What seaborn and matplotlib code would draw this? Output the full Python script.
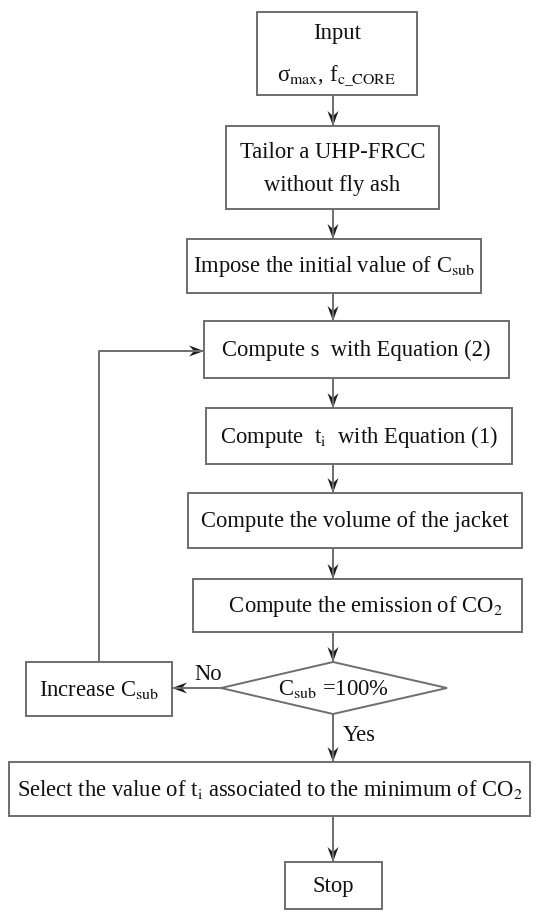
import matplotlib.pyplot as plt
import seaborn as sns
from matplotlib.patches import Rectangle, Polygon

sns.set_theme(style="white")
plt.rcParams['font.family'] = ['Liberation Serif', 'DejaVu Serif']
plt.rcParams['mathtext.fontset'] = 'stix'

# box texts (one list per box, lines top to bottom)
labels = [
    ["Input", "σ$_{\\rm max}$, f$_{\\rm c\\_CORE}$"],
    ["Tailor a UHP-FRCC", "without fly ash"],
    ["Impose the initial value of C$_{\\rm sub}$"],
    ["Compute s  with Equation (2)"],
    ["Compute  t$_{\\rm i}$  with Equation (1)"],
    ["Compute the volume of the jacket"],
    ["   Compute the emission of CO$_{2}$"],
    ["Select the value of t$_{\\rm i}$ associated to the minimum of CO$_{2}$"],
    ["Stop"],
]
side_label = "Increase C$_{\\rm sub}$"
decision_label = "C$_{\\rm sub}$ =100%"
no_label = "No"
yes_label = "Yes"

# layout in pixels: left, right, top, bottom, line spacing
boxes = [
    (257, 417, 13, 96, 42),
    (226, 439, 127, 210, 33),
    (187, 481, 240, 294, 0),
    (204, 509, 322, 379, 0),
    (206, 512, 409, 465, 0),
    (188, 522, 494, 549, 0),
    (193, 522, 580, 633, 0),
    (9, 530, 763, 817, 0),
    (285, 382, 863, 910, 0),
]
side_box = (26, 172, 663, 717, 0)
diamond = (221, 447, 663, 715)
cx = 333
loop_y = 352

line_col = "#6e6e6e"
head_col = "#1e1e1e"
txt_col = "#111111"
fs = 16.3

fig = plt.figure(figsize=(5.36, 9.12), dpi=100)
ax = fig.add_axes([0, 0, 1, 1])
ax.set_xlim(0, 536)
ax.set_ylim(912, 0)
ax.axis("off")


def box(b, lines):
    l, r, t, bt, sp = b
    ax.add_patch(Rectangle((l, t), r - l, bt - t, fill=False,
                           edgecolor=line_col, linewidth=1.4))
    n = len(lines)
    mid = (t + bt) / 2
    for i, s in enumerate(lines):
        y = mid + (i - (n - 1) / 2) * sp
        ax.text((l + r) / 2, y, s, ha="center", va="center",
                fontsize=fs, color=txt_col)


def arrow(pts):
    xs = [p[0] for p in pts]
    ys = [p[1] for p in pts]
    ax.plot(xs, ys, color=line_col, linewidth=1.4, solid_capstyle="butt")
    (x0, y0), (x1, y1) = pts[-2], pts[-1]
    d = ((x1 - x0) ** 2 + (y1 - y0) ** 2) ** 0.5
    ux, uy = (x1 - x0) / d, (y1 - y0) / d
    px, py = -uy, ux
    L, W, N = 15, 5.5, 5
    head = [(x1, y1),
            (x1 - ux * L + px * W, y1 - uy * L + py * W),
            (x1 - ux * (L - N), y1 - uy * (L - N)),
            (x1 - ux * L - px * W, y1 - uy * L - py * W)]
    ax.add_patch(Polygon(head, closed=True, color=head_col, linewidth=0))


for b, lines in zip(boxes, labels):
    box(b, lines)
box(side_box, [side_label])

# decision diamond
l, r, t, bt = diamond
my = (t + bt) / 2
ax.add_patch(Polygon([(l, my), (cx, t), (r, my), (cx, bt)], closed=True,
                     fill=False, edgecolor=line_col, linewidth=1.4))
ax.text(cx, my, decision_label, ha="center", va="center", fontsize=fs,
        color=txt_col)

# vertical arrows down the main column
for upper, lower in zip(boxes[:6], boxes[1:7]):
    arrow([(cx, upper[3]), (cx, lower[2])])
arrow([(cx, boxes[6][3]), (cx, diamond[2])])
arrow([(cx, diamond[3]), (cx, boxes[7][2])])
arrow([(cx, boxes[7][3]), (cx, boxes[8][2])])

# no branch and loop back
arrow([(l, my), (side_box[1], my)])
sx = (side_box[0] + side_box[1]) / 2
arrow([(sx, side_box[2]), (sx, loop_y), (boxes[3][0], loop_y)])

ax.text(208, 675, no_label, ha="center", va="center", fontsize=fs,
        color=txt_col)
ax.text(343, 736, yes_label, ha="left", va="center", fontsize=fs,
        color=txt_col)

fig.savefig("out.png", dpi=100, facecolor="white")
